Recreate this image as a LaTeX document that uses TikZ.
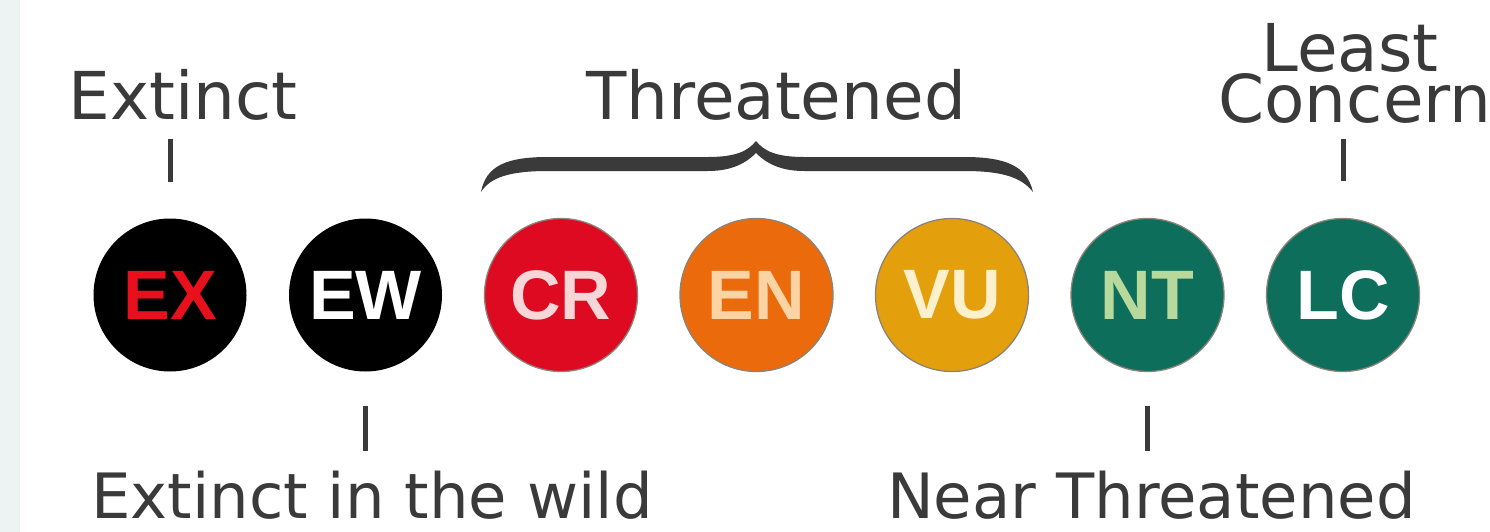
\documentclass[tikz,border=0pt]{standalone}
\usepackage{fontspec}
\setmainfont{DejaVu Sans}
\newfontfamily\badgefont{Liberation Sans}
\definecolor{txt}{HTML}{3A3A3A}
\definecolor{strip}{HTML}{EDF2F2}
\definecolor{badgeedge}{HTML}{8C8478}
\definecolor{exred}{HTML}{E8101C}
\definecolor{crfill}{HTML}{DE0A22}
\definecolor{crtext}{HTML}{F6D6D6}
\definecolor{enfill}{HTML}{EB6A0C}
\definecolor{entext}{HTML}{FBD4A6}
\definecolor{vufill}{HTML}{E39F0C}
\definecolor{vutext}{HTML}{FDF1CD}
\definecolor{ntfill}{HTML}{0D6F5B}
\definecolor{nttext}{HTML}{B8D99C}
\begin{document}
\begin{tikzpicture}[x=1pt,y=-1pt,
  badge/.style={circle, minimum size=153pt, inner sep=0pt,
    font=\badgefont\bfseries\fontsize{70}{70}\selectfont},
  blackbadge/.style={badge, fill=black},
  colbadge/.style={badge, draw=badgeedge, line width=1.3pt},
  lbl/.style={text=txt, inner sep=0pt, anchor=base, font=\fontsize{66}{66}\selectfont},
  lblb/.style={lbl, font=\fontsize{62.5}{62.5}\selectfont},
  tickmark/.style={draw=txt, line width=5pt}]
\useasboundingbox (0,0) rectangle (1490,532);
\fill[white] (0,0) rectangle (1490,532);
\fill[strip] (0,0) rectangle (20,532);

% badges
\node[blackbadge, text=exred] (ex) at (170,295) {EX};
\node[blackbadge, text=white] (ew) at (365.5,295) {EW};
\node[colbadge, fill=crfill, text=crtext] (cr) at (561,295) {CR};
\node[colbadge, fill=enfill, text=entext] (en) at (756.5,295) {EN};
\node[colbadge, fill=vufill, text=vutext] (vu) at (952,295) {VU};
\node[colbadge, fill=ntfill, text=nttext] (nt) at (1147.5,295) {NT};
\node[colbadge, fill=ntfill, text=white] (lc) at (1343,295) {LC};

% labels
\node[lbl] (extinct) at (183,120) {Extinct};
\node[lbl] (threat) at (776,120) {Threatened};
\node[lbl, text depth=0pt] (least) at (1350,72) {Least};
\node[lbl, text height=48pt] (concern) at (1355,122) {Concern};
\node[lblb] (ewlabel) at (372,518) {Extinct in the wild};
\node[lblb] (ntlabel) at (1151.5,518) {Near Threatened};

% ticks
\draw[tickmark] ([yshift=36pt]ex.north) -- ([yshift=79pt]ex.north);
\draw[tickmark] ([yshift=37pt]lc.north) -- ([yshift=79pt]lc.north);
\draw[tickmark] ([yshift=-34pt]ew.south) -- ([yshift=-79pt]ew.south);
\draw[tickmark] ([yshift=-34pt]nt.south) -- ([yshift=-79pt]nt.south);

% brace
\fill[txt] (481,192) .. controls (486,166) and (506,157) .. (548,157)
  -- (708,157) .. controls (736,157) and (748,151) .. (756,141)
  .. controls (764,151) and (776,157) .. (804,157)
  -- (964,157) .. controls (1006,157) and (1027,166) .. (1033,192)
  .. controls (1022,178) and (1004,171) .. (964,171)
  -- (804,171) .. controls (780,171) and (766,163) .. (756,153)
  .. controls (746,163) and (732,171) .. (708,171)
  -- (548,171) .. controls (508,171) and (490,178) .. (481,192) -- cycle;
\end{tikzpicture}
\end{document}
